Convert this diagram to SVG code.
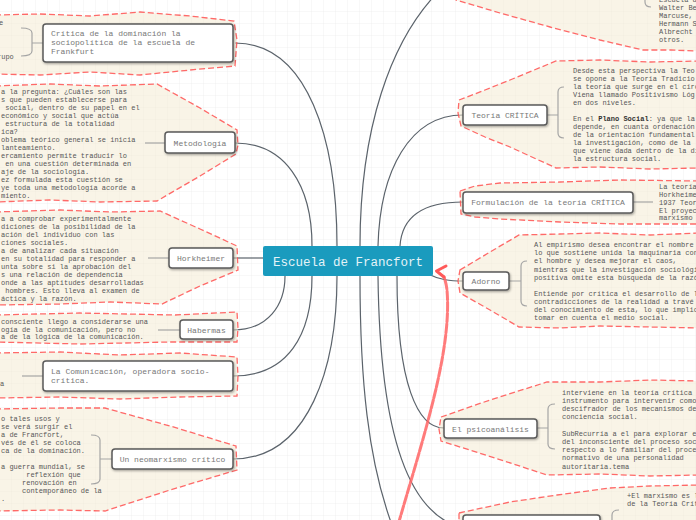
<svg xmlns="http://www.w3.org/2000/svg" width="696" height="520" viewBox="0 0 696 520">
<defs>
<pattern id="grid" width="12" height="12" patternUnits="userSpaceOnUse">
<path d="M12 0V12M0 12H12" fill="none" stroke="#ececec" stroke-width="0.7"/>
</pattern>
<filter id="sh" x="-10%" y="-20%" width="120%" height="150%">
<feDropShadow dx="0.8" dy="1.2" stdDeviation="0.8" flood-color="#000" flood-opacity="0.35"/>
</filter>
<style>
.bg{fill:#f4e9d0;fill-opacity:.5;stroke:#ff5050;stroke-opacity:.85;stroke-width:1.3;stroke-dasharray:6 3}
.box{fill:#fff;stroke:#5a5a5a;stroke-width:1.5;filter:url(#sh)}
.lbl{font-family:"Liberation Mono",monospace;font-size:8px;fill:#787878}
.note{font-family:"Liberation Mono",monospace;font-size:7px;fill:#575757}
.conn{fill:none;stroke:#5b636b;stroke-width:1.2}
.stub{fill:none;stroke:#a5a5a5;stroke-width:1.2}
.red{fill:none;stroke:#ff6464;stroke-opacity:.85;stroke-width:3;stroke-dasharray:9 2;stroke-linecap:round}
.redhead{fill:none;stroke:#ff5a5a;stroke-width:3;stroke-linecap:round;stroke-linejoin:round}
</style>
</defs>
<rect width="696" height="520" fill="#fff"/>
<rect width="696" height="520" fill="url(#grid)"/>

<g id="connectors">
<path class="conn" d="M235,43 C308,43 337,140 337,246"/>
<path class="conn" d="M235,143 C285,143 312,185 312,246"/>
<path class="conn" d="M233,258 L263,258"/>
<path class="conn" d="M233,330 C268,330 285,305 285,276"/>
<path class="conn" d="M233,376 C288,376 312,335 312,276"/>
<path class="conn" d="M233,459 C310,459 337,365 337,276"/>
<path class="conn" d="M360,246 C360,130 390,40 440,-10"/>
<path class="conn" d="M378,246 C380,170 410,115 463,115"/>
<path class="conn" d="M400,246 C402,215 425,202 463,202"/>
<path class="conn" d="M428,274 C440,280 450,281 463,281"/>
<path class="conn" d="M397,276 C397,385 418,428 444,428"/>
<path class="conn" d="M378,276 C380,440 410,515 463,528"/>
<path class="conn" d="M360,276 C360,380 368,460 392,525"/>
</g>

<g id="n-critica-dominacion">
<path class="bg" d="M-5,15 L40,14 L90,16 L140,12 L190,16 L234,21 L237,40 L235,66 L190,70 L140,75 L90,72 L40,75 L-5,74 Z"/>
<text class="note" x="-1" y="25">e</text>
<text class="note" x="-3" y="59">rupo</text>
<path class="stub" d="M21,28 Q32,28 32,33 L32,51 Q32,56 21,56 M32,43 L43,43"/>
<rect class="box" x="43" y="24" width="190" height="38" rx="3"/>
<text class="lbl" x="51" y="36"><tspan x="51">Crítica de la dominación la</tspan><tspan x="51" dy="9.2">sociopolítica de la escuela de</tspan><tspan x="51" dy="9.2">Frankfurt</tspan></text>
</g>

<g id="n-metodologia">
<path class="bg" d="M-5,86 L50,84 L100,86 L157,84 L200,108 L237,130 L238,145 L236,154 L200,176 L157,201 L100,202 L50,200 L-5,202 Z"/>
<path class="stub" d="M145,143 L165,143"/>
<text class="note" y="94"><tspan x="1">a la pregunta: ¿Cuáles son las</tspan><tspan x="1" dy="7.97">s que pueden establecerse para</tspan><tspan x="5.2" dy="7.97">social, dentro de su papel en el</tspan><tspan x="1" dy="7.97">económico y social que actúa</tspan><tspan x="5.2" dy="7.97">estructura de la totalidad</tspan><tspan x="1" dy="7.97">ica?</tspan><tspan x="1" dy="7.97">oblema teórico general se inicia</tspan><tspan x="1" dy="7.97">lanteamiento.</tspan><tspan x="1" dy="7.97">ercamiento permite traducir lo</tspan><tspan x="5.2" dy="7.97">en una cuestión determinada en</tspan><tspan x="1" dy="7.97">aje de la sociología.</tspan><tspan x="1" dy="7.97">ez formulada esta cuestión se</tspan><tspan x="1" dy="7.97">ye toda una metodología acorde a</tspan><tspan x="1" dy="7.97">miento.</tspan></text>
<rect class="box" x="165" y="132" width="70" height="21" rx="3"/>
<text class="lbl" x="200" y="145.5" text-anchor="middle">Metodología</text>
</g>

<g id="n-horkheimer">
<path class="bg" d="M-5,212 L60,210 L110,212 L160,211 L200,229 L237,246 L238,270 L200,286 L162,304 L110,302 L60,304 L-5,305 Z"/>
<path class="stub" d="M148,258 L169,258"/>
<text class="note" y="220.5"><tspan x="1">a a comprobar experimentalmente</tspan><tspan x="1" dy="8">diciones de la posibilidad de la</tspan><tspan x="1" dy="8">ación del individuo con las</tspan><tspan x="1" dy="8">ciones sociales.</tspan><tspan x="1" dy="8">a de analizar cada situación</tspan><tspan x="1" dy="8">en su totalidad para responder a</tspan><tspan x="1" dy="8">unta sobre si la aprobación del</tspan><tspan x="1" dy="8">s una relación de dependencia</tspan><tspan x="1" dy="8">onde a las aptitudes desarrolladas</tspan><tspan x="5.2" dy="8">hombres. Esto lleva al examen de</tspan><tspan x="1" dy="8">áctica y la razón.</tspan></text>
<rect class="box" x="169" y="248" width="64" height="20" rx="3"/>
<text class="lbl" x="201" y="261" text-anchor="middle">Horkheimer</text>
</g>

<g id="n-habermas">
<path class="bg" d="M-5,315 L80,313 L175,315 L237,312 L238,328 L237,342 L170,342 L80,344 L-5,342 Z"/>
<path class="stub" d="M158,330 L180,330"/>
<text class="note" y="324"><tspan x="1">consciente llego a considerarse una</tspan><tspan x="1" dy="7.6">ogía de la comunicación, pero no</tspan><tspan x="1" dy="7.6">a de la lógica de la comunicación.</tspan></text>
<rect class="box" x="180" y="320" width="53" height="19" rx="3"/>
<text class="lbl" x="206.5" y="333" text-anchor="middle">Habermas</text>
</g>

<g id="n-comunicacion">
<path class="bg" d="M-5,353 L60,352 L120,355 L180,353 L237,357 L238,376 L237,396 L180,397 L120,399 L60,397 L-5,398 Z"/>
<text class="note" x="0" y="386">a</text>
<path class="stub" d="M22,376 L43,376"/>
<rect class="box" x="43" y="361" width="190" height="30" rx="3"/>
<text class="lbl" x="51" y="374"><tspan x="51">La Comunicación, operadora socio-</tspan><tspan x="51" dy="9">crítica.</tspan></text>
</g>

<g id="n-neomarxismo">
<path class="bg" d="M-5,409 L60,408 L105,408 L170,426 L236,446 L237,470 L170,490 L105,511 L60,510 L-5,511 Z"/>
<text class="note" y="421.3"><tspan x="1">o tales usos y</tspan><tspan x="1" dy="8">se verá surgir el</tspan><tspan x="1" dy="8">a de Francfort,</tspan><tspan x="1" dy="8">vés de él se coloca</tspan><tspan x="1" dy="8">ca de la dominación.</tspan><tspan x="1" dy="16">a guerra mundial, se</tspan><tspan x="26.2" dy="8">reflexión que</tspan><tspan x="22" dy="8">renovación en</tspan><tspan x="22" dy="8">contemporáneo de la</tspan><tspan x="1" dy="8">.</tspan></text>
<path class="stub" d="M91,435 Q100,435 100,440 L100,479 Q100,484 91,484 M100,459 L112,459"/>
<rect class="box" x="112" y="449" width="121" height="20" rx="3"/>
<text class="lbl" x="172.5" y="462" text-anchor="middle">Un neomarxismo crítico</text>
</g>

<g id="n-escuela-top">
<path class="bg" d="M456,-5 L456,0 L500,13 L550,27 L600,40 L643,50 L670,50 L700,51 L700,-5 Z"/>
<path class="stub" d="M645,-20 L645,2 Q645,7 651,7"/>
<text class="note" y="2.3"><tspan x="659">Escuela d</tspan><tspan x="659" dy="8">Walter Be</tspan><tspan x="659" dy="8">Marcuse,</tspan><tspan x="659" dy="8">Hermann S</tspan><tspan x="659" dy="8">Albrecht</tspan><tspan x="659" dy="8">otros.</tspan></text>
</g>

<g id="n-teoria-critica">
<path class="bg" d="M459,100 L485,90 L510,80 L556,61 L600,60 L650,62 L700,61 L700,168 L650,169 L600,167 L556,168 L510,147 L485,137 L461,126 L458,113 Z"/>
<path class="stub" d="M564,87 Q558,87 558,92 L558,133 Q558,138 564,138 M547,115 L558,115"/>
<text class="note" y="73.2"><tspan x="573">Desde esta perspectiva la Teo</tspan><tspan x="573" dy="8">se opone a la Teoría Tradicio</tspan><tspan x="573" dy="8">la teoría que surge en el círc</tspan><tspan x="573" dy="8">Viena llamado Positivismo Lóg</tspan><tspan x="573" dy="8">en dos niveles.</tspan><tspan x="573" dy="16">En el <tspan font-weight="bold" fill="#333">Plano Social</tspan>: ya que la</tspan><tspan x="573" dy="8">depende, en cuanta ordenación</tspan><tspan x="573" dy="8">de la orientación fundamental</tspan><tspan x="573" dy="8">la investigación, como de la</tspan><tspan x="573" dy="8">que viene dada dentro de la di</tspan><tspan x="573" dy="8">la estructura social.</tspan></text>
<rect class="box" x="463" y="105" width="84" height="20" rx="3"/>
<text class="lbl" x="505" y="118" text-anchor="middle">Teoría CRÍTICA</text>
</g>

<g id="n-formulacion">
<path class="bg" d="M460,191 L475,186 L500,183 L560,182 L620,180 L700,181 L700,224 L620,224 L560,222 L500,219 L475,217 L461,214 Z"/>
<path class="stub" d="M633,202 L653,202"/>
<text class="note" y="188.8"><tspan x="659">La teoría</tspan><tspan x="659" dy="7.9">Horkheime</tspan><tspan x="659" dy="7.9">1937 Teor</tspan><tspan x="659" dy="7.9">El proyec</tspan><tspan x="659" dy="7.9">marxismo</tspan></text>
<rect class="box" x="463" y="192" width="170" height="21" rx="3"/>
<text class="lbl" x="548" y="205" text-anchor="middle">Formulación de la teoría CRÍTICA</text>
</g>

<g id="n-adorno">
<path class="bg" d="M460,270 L490,252 L519,235 L560,234 L600,233 L650,235 L700,233 L700,328 L650,327 L600,326 L560,328 L519,327 L490,310 L460,293 L458,281 Z"/>
<path class="stub" d="M527,261 Q521,261 521,266 L521,301 Q521,306 527,306 M509,281 L521,281"/>
<text class="note" y="247.2"><tspan x="534">Al empirismo desea encontrar el nombre</tspan><tspan x="534" dy="8.1">lo que sostiene unida la maquinaria con</tspan><tspan x="534" dy="8.1">el hombre y desea mejorar el caos,</tspan><tspan x="534" dy="8.1">mientras que la investigación sociológi</tspan><tspan x="534" dy="8.1">positiva omite esta búsqueda de la razó</tspan><tspan x="534" dy="16.2">Entiende por crítica el desarrollo de la</tspan><tspan x="534" dy="8.1">contradicciones de la realidad a travé</tspan><tspan x="534" dy="8.1">del conocimiento de esta, lo que implic</tspan><tspan x="534" dy="8.1">tomar en cuenta el medio social.</tspan></text>
<rect class="box" x="463" y="272" width="46" height="18" rx="3"/>
<text class="lbl" x="486" y="284" text-anchor="middle">Adorno</text>
</g>

<g id="n-psicoanalisis">
<path class="bg" d="M441,417 L490,400 L547,382 L600,382 L650,380 L700,381 L700,475 L650,476 L600,474 L547,475 L495,458 L441,441 L439,429 Z"/>
<path class="stub" d="M555,404 Q548,404 548,409 L548,444 Q548,449 555,449 M537,428 L548,428"/>
<text class="note" y="394.8"><tspan x="562">interviene en la teoría crítica</tspan><tspan x="562" dy="8.2">instrumento para intervenir como</tspan><tspan x="562" dy="8.2">descifrador de los mecanismos de</tspan><tspan x="562" dy="8.2">conciencia social.</tspan><tspan x="562" dy="16.4">SubRecurría a el para explorar e</tspan><tspan x="562" dy="8.2">del inconsciente del proceso soc</tspan><tspan x="562" dy="8.2">respecto a lo familiar del proce</tspan><tspan x="562" dy="8.2">normativo de una personalidad</tspan><tspan x="562" dy="8.2">autoritaria.tema</tspan></text>
<rect class="box" x="444" y="419" width="93" height="19" rx="3"/>
<text class="lbl" x="490.5" y="431.5" text-anchor="middle">El psicoanálisis</text>
</g>

<g id="n-marxismo-bottom">
<path class="bg" d="M459,513 L510,502 L557,495 L610,488 L650,486 L700,485 L700,530 L459,530 Z"/>
<path class="stub" d="M619,510 Q612,510 612,515 L612,530"/>
<text class="note" y="498"><tspan x="627">+El marxismo es l</tspan><tspan x="627" dy="8">de la Teoría Crít</tspan></text>
<rect class="box" x="463" y="515" width="137" height="30" rx="3"/>
</g>

<g id="n-escuela-francfort">
<rect x="263" y="246" width="170" height="30" rx="2" fill="#1a9bbe"/>
<text x="348" y="265.5" text-anchor="middle" font-family="'Liberation Mono',monospace" font-size="12.5" fill="#e4f3f8">Escuela de Francfort</text>
</g>

<g id="relation">
<path class="red" d="M398,525 C425,432 452,350 447,290 Q446,282 444,277"/>
<path class="redhead" d="M446,266 L436.5,271 L444,277"/>
</g>
</svg>
